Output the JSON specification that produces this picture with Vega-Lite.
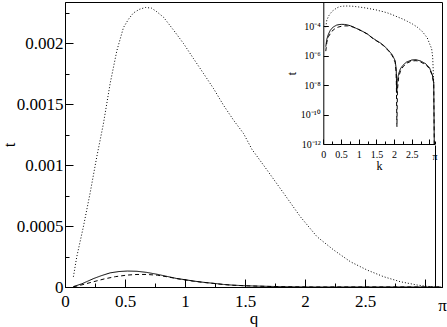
{
  "$schema": "https://vega.github.io/schema/vega-lite/v6.json",
  "width": 377,
  "height": 285,
  "autosize": {"type": "none"},
  "padding": {"left": 65, "top": 2, "right": 5, "bottom": 40},
  "background": "white",
  "config": {
    "font": "Liberation Serif",
    "view": {"stroke": "black", "strokeWidth": 1},
    "axis": {
      "labelFont": "Liberation Serif",
      "titleFont": "Liberation Serif",
      "labelColor": "black",
      "titleColor": "black",
      "titleFontWeight": "normal",
      "domainColor": "black",
      "tickColor": "black",
      "grid": false,
      "labelFontSize": 17,
      "titleFontSize": 17,
      "labelOverlap": false,
      "labelFlush": false
    }
  },
  "data": {
    "values": [
      {"q": 0.07, "t": 4e-6, "s": "a"},
      {"q": 0.10, "t": 1.3e-5, "s": "a"},
      {"q": 0.14, "t": 2.6e-5, "s": "a"},
      {"q": 0.19, "t": 4.8e-5, "s": "a"},
      {"q": 0.24, "t": 7.0e-5, "s": "a"},
      {"q": 0.30, "t": 9.2e-5, "s": "a"},
      {"q": 0.376, "t": 1.16e-4, "s": "a"},
      {"q": 0.45, "t": 1.27e-4, "s": "a"},
      {"q": 0.52, "t": 1.31e-4, "s": "a"},
      {"q": 0.60, "t": 1.29e-4, "s": "a"},
      {"q": 0.68, "t": 1.2e-4, "s": "a"},
      {"q": 0.77, "t": 1.04e-4, "s": "a"},
      {"q": 0.85, "t": 8.7e-5, "s": "a"},
      {"q": 0.93, "t": 7.0e-5, "s": "a"},
      {"q": 1.00, "t": 6.0e-5, "s": "a"},
      {"q": 1.07, "t": 4.9e-5, "s": "a"},
      {"q": 1.15, "t": 3.9e-5, "s": "a"},
      {"q": 1.24, "t": 3.0e-5, "s": "a"},
      {"q": 1.32, "t": 2.1e-5, "s": "a"},
      {"q": 1.40, "t": 1.5e-5, "s": "a"},
      {"q": 1.50, "t": 1.05e-5, "s": "a"},
      {"q": 1.60, "t": 7.5e-6, "s": "a"},
      {"q": 1.70, "t": 5e-6, "s": "a"},
      {"q": 1.84, "t": 2.3e-6, "s": "a"},
      {"q": 1.95, "t": 1.1e-6, "s": "a"},
      {"q": 2.03, "t": 4.5e-7, "s": "a"},
      {"q": 2.06, "t": 1.2e-7, "s": "a"},
      {"q": 2.075, "t": 3e-9, "s": "a"},
      {"q": 2.09, "t": 2e-8, "s": "a"},
      {"q": 2.13, "t": 6e-8, "s": "a"},
      {"q": 2.18, "t": 1.3e-7, "s": "a"},
      {"q": 2.25, "t": 2.2e-7, "s": "a"},
      {"q": 2.35, "t": 3.6e-7, "s": "a"},
      {"q": 2.5, "t": 5.0e-7, "s": "a"},
      {"q": 2.62, "t": 5.2e-7, "s": "a"},
      {"q": 2.75, "t": 4.3e-7, "s": "a"},
      {"q": 2.9, "t": 2.7e-7, "s": "a"},
      {"q": 3.0, "t": 1.5e-7, "s": "a"},
      {"q": 3.08, "t": 5e-8, "s": "a"},
      {"q": 3.12, "t": 1.5e-8, "s": "a"},
      {"q": 3.135, "t": 1e-12, "s": "a"},

      {"q": 0.07, "t": 2e-6, "s": "b"},
      {"q": 0.10, "t": 8e-6, "s": "b"},
      {"q": 0.15, "t": 2.0e-5, "s": "b"},
      {"q": 0.24, "t": 4.4e-5, "s": "b"},
      {"q": 0.33, "t": 6.7e-5, "s": "b"},
      {"q": 0.42, "t": 8.5e-5, "s": "b"},
      {"q": 0.52, "t": 9.8e-5, "s": "b"},
      {"q": 0.60, "t": 1.03e-4, "s": "b"},
      {"q": 0.68, "t": 1.03e-4, "s": "b"},
      {"q": 0.77, "t": 9.7e-5, "s": "b"},
      {"q": 0.85, "t": 8.4e-5, "s": "b"},
      {"q": 0.93, "t": 6.9e-5, "s": "b"},
      {"q": 1.00, "t": 5.8e-5, "s": "b"},
      {"q": 1.07, "t": 4.8e-5, "s": "b"},
      {"q": 1.15, "t": 3.8e-5, "s": "b"},
      {"q": 1.24, "t": 2.9e-5, "s": "b"},
      {"q": 1.32, "t": 2.05e-5, "s": "b"},
      {"q": 1.40, "t": 1.45e-5, "s": "b"},
      {"q": 1.50, "t": 1.0e-5, "s": "b"},
      {"q": 1.60, "t": 7.1e-6, "s": "b"},
      {"q": 1.70, "t": 4.7e-6, "s": "b"},
      {"q": 1.84, "t": 2.1e-6, "s": "b"},
      {"q": 1.95, "t": 9.5e-7, "s": "b"},
      {"q": 2.03, "t": 3.5e-7, "s": "b"},
      {"q": 2.06, "t": 6e-8, "s": "b"},
      {"q": 2.08, "t": 1.5e-11, "s": "b"},
      {"q": 2.095, "t": 5e-9, "s": "b"},
      {"q": 2.13, "t": 3.5e-8, "s": "b"},
      {"q": 2.18, "t": 9e-8, "s": "b"},
      {"q": 2.25, "t": 1.7e-7, "s": "b"},
      {"q": 2.35, "t": 3.0e-7, "s": "b"},
      {"q": 2.5, "t": 4.3e-7, "s": "b"},
      {"q": 2.62, "t": 4.5e-7, "s": "b"},
      {"q": 2.75, "t": 3.7e-7, "s": "b"},
      {"q": 2.9, "t": 2.3e-7, "s": "b"},
      {"q": 3.0, "t": 1.3e-7, "s": "b"},
      {"q": 3.08, "t": 4.3e-8, "s": "b"},
      {"q": 3.12, "t": 1.2e-8, "s": "b"},
      {"q": 3.135, "t": 1e-12, "s": "b"},

      {"q": 0.07, "t": 8.4e-5, "s": "c"},
      {"q": 0.098, "t": 2.48e-4, "s": "c"},
      {"q": 0.153, "t": 4.94e-4, "s": "c"},
      {"q": 0.209, "t": 7.7e-4, "s": "c"},
      {"q": 0.265, "t": 1.07e-3, "s": "c"},
      {"q": 0.32, "t": 1.34e-3, "s": "c"},
      {"q": 0.376, "t": 1.67e-3, "s": "c"},
      {"q": 0.432, "t": 1.94e-3, "s": "c"},
      {"q": 0.487, "t": 2.13e-3, "s": "c"},
      {"q": 0.53, "t": 2.2e-3, "s": "c"},
      {"q": 0.57, "t": 2.25e-3, "s": "c"},
      {"q": 0.62, "t": 2.28e-3, "s": "c"},
      {"q": 0.67, "t": 2.295e-3, "s": "c"},
      {"q": 0.72, "t": 2.29e-3, "s": "c"},
      {"q": 0.765, "t": 2.26e-3, "s": "c"},
      {"q": 0.821, "t": 2.215e-3, "s": "c"},
      {"q": 0.904, "t": 2.11e-3, "s": "c"},
      {"q": 0.987, "t": 2.0e-3, "s": "c"},
      {"q": 1.071, "t": 1.875e-3, "s": "c"},
      {"q": 1.155, "t": 1.752e-3, "s": "c"},
      {"q": 1.238, "t": 1.629e-3, "s": "c"},
      {"q": 1.321, "t": 1.492e-3, "s": "c"},
      {"q": 1.405, "t": 1.369e-3, "s": "c"},
      {"q": 1.488, "t": 1.26e-3, "s": "c"},
      {"q": 1.558, "t": 1.13e-3, "s": "c"},
      {"q": 1.684, "t": 9.6e-4, "s": "c"},
      {"q": 1.822, "t": 7.7e-4, "s": "c"},
      {"q": 1.962, "t": 5.76e-4, "s": "c"},
      {"q": 2.101, "t": 4.12e-4, "s": "c"},
      {"q": 2.24, "t": 3.03e-4, "s": "c"},
      {"q": 2.379, "t": 2.07e-4, "s": "c"},
      {"q": 2.518, "t": 1.39e-4, "s": "c"},
      {"q": 2.657, "t": 8.4e-5, "s": "c"},
      {"q": 2.796, "t": 4.3e-5, "s": "c"},
      {"q": 2.936, "t": 1.6e-5, "s": "c"},
      {"q": 3.02, "t": 5e-6, "s": "c"},
      {"q": 3.06, "t": 3e-6, "s": "c"},
      {"q": 3.09, "t": 8e-7, "s": "c"},
      {"q": 3.11, "t": 6e-8, "s": "c"},
      {"q": 3.12, "t": 1e-8, "s": "c"}
    ]
  },
  "layer": [
    {
      "mark": {"type": "line", "color": "black", "strokeWidth": 1, "clip": true},
      "encoding": {
        "x": {
          "field": "q", "type": "quantitative",
          "scale": {"domain": [0, 3.14159], "nice": false, "zero": false},
          "axis": {
            "orient": "bottom",
            "values": [0, 0.25, 0.5, 0.75, 1, 1.25, 1.5, 1.75, 2, 2.25, 2.5, 2.75, 3, 3.14159],
            "format": "~g",
            "labelExpr": "datum.value > 3.1 ? 'π' : ((datum.value == 3 || datum.value * 2 % 1 != 0) ? '' : datum.label)",
            "tickSize": {"condition": {"test": "datum.value * 2 % 1 == 0", "value": -8}, "value": -4},
            "labelFont": "Liberation Serif",
            "titleFont": "Liberation Serif",
            "labelPadding": 14,
            "title": "q",
            "titlePadding": -3
          }
        },
        "y": {
          "field": "t", "type": "quantitative",
          "scale": {"domain": [0, 0.00234], "nice": false},
          "axis": {
            "orient": "left",
            "values": [0, 0.00025, 0.0005, 0.00075, 0.001, 0.00125, 0.0015, 0.00175, 0.002, 0.00225],
            "format": "~g",
            "labelExpr": "abs(datum.value * 2000 - round(datum.value * 2000)) < 1e-6 ? datum.label : ''",
            "tickSize": {"condition": {"test": "abs(datum.value * 2000 - round(datum.value * 2000)) < 1e-6", "value": -8}, "value": -4},
            "labelFont": "Liberation Serif",
            "titleFont": "Liberation Serif",
            "labelPadding": 10,
            "title": "t",
            "titlePadding": -2
          }
        },
        "strokeDash": {
          "field": "s", "type": "nominal",
          "scale": {"domain": ["a", "b", "c"], "range": [[1, 0], [4, 3], [1, 2]]},
          "legend": null
        }
      }
    },
    {
      "mark": {"type": "line", "color": "black", "strokeWidth": 1},
      "encoding": {
        "x": {
          "field": "q", "type": "quantitative",
          "scale": {"domain": [0, 3.14159], "range": [258.3, 369.5], "nice": false, "zero": false},
          "axis": {
            "orient": "bottom",
            "offset": -143,
            "values": [0, 0.25, 0.5, 0.75, 1, 1.25, 1.5, 1.75, 2, 2.25, 2.5, 2.75, 3, 3.14159],
            "format": "~g",
            "labelExpr": "datum.value > 3.1 ? 'π' : ((datum.value >= 2.9 || datum.value * 2 % 1 != 0) ? '' : datum.label)",
            "tickSize": {"condition": {"test": "datum.value * 2 % 1 == 0", "value": -5}, "value": -3},
            "labelFont": "Liberation Serif",
            "titleFont": "Liberation Serif",
            "labelFontSize": 10,
            "labelPadding": 10,
            "title": "k",
            "titleFontSize": 12,
            "titlePadding": -1,
            "grid": true,
            "gridColor": {"condition": {"test": "datum.value > 3.1", "value": "black"}, "value": "transparent"},
            "gridWidth": 1
          }
        },
        "y": {
          "field": "t", "type": "quantitative",
          "scale": {"type": "log", "domain": [1e-12, 0.0043], "range": [142, 0], "nice": false},
          "axis": {
            "orient": "left",
            "offset": -258.3,
            "values": [1e-12, 1e-10, 1e-8, 1e-6, 1e-4],
            "labelExpr": "datum.value < 1e-11 ? '10⁻¹²' : datum.value < 1e-9 ? '10⁻¹⁰' : datum.value < 1e-7 ? '10⁻⁸' : datum.value < 1e-5 ? '10⁻⁶' : '10⁻⁴'",
            "tickSize": -5,
            "labelFont": "Liberation Serif",
            "titleFont": "Liberation Serif",
            "labelFontSize": 10,
            "labelPadding": 8,
            "title": "t",
            "titleFontSize": 12,
            "titlePadding": 2
          }
        },
        "strokeDash": {
          "field": "s", "type": "nominal",
          "scale": {"domain": ["a", "b", "c"], "range": [[1, 0], [4, 3], [1, 2]]},
          "legend": null
        }
      }
    }
  ],
  "resolve": {"scale": {"x": "independent", "y": "independent"}}
}
